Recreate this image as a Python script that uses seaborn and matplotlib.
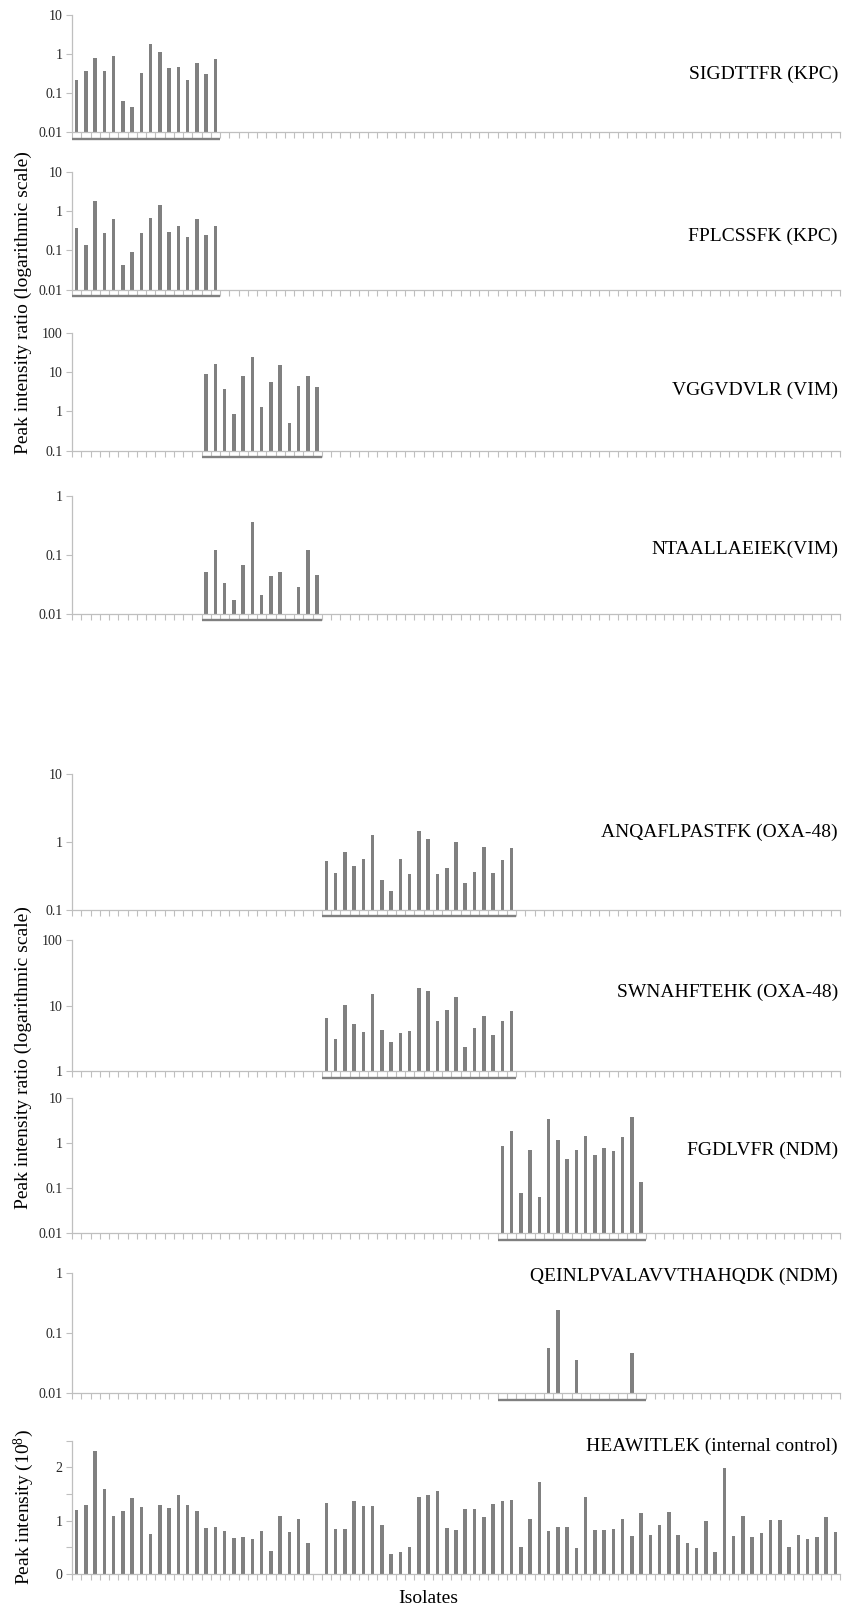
import numpy as np
import pandas as pd
import matplotlib
matplotlib.use("Agg")
import matplotlib.pyplot as plt
import matplotlib.transforms as mtransforms
from matplotlib.ticker import NullLocator
import seaborn as sns

# ---------------- data ----------------
isolates = [str(i) for i in range(1, 84)]

kpc_isolates = isolates[0:16]
sigdttfr_kpc = [0.22, 0.36, 0.78, 0.36, 0.86, 0.064, 0.043, 0.32, 1.81, 1.09,
                0.43, 0.46, 0.21, 0.57, 0.30, 0.72]
fplcssfk_kpc = [0.36, 0.137, 1.83, 0.28, 0.64, 0.042, 0.089, 0.27, 0.66, 1.42,
                0.30, 0.42, 0.22, 0.61, 0.245, 0.42]

vim_isolates = isolates[14:27]
vggvdvlr_vim = [8.9, 15.7, 3.8, 0.87, 7.8, 24.5, 1.29, 5.5, 15.1, 0.505, 4.4, 7.9, 4.1]
ntaallaeiek_vim = [0.052, 0.12, 0.033, 0.0175, 0.068, 0.36, 0.021, 0.0435, 0.052,
                   None, 0.029, 0.122, 0.046]

oxa_isolates = isolates[27:48]
anqaflpastfk_oxa = [0.525, 0.346, 0.72, 0.434, 0.55, 1.27, 0.276, 0.188, 0.55, 0.335,
                    1.45, 1.1, 0.335, 0.41, 1.01, 0.247, 0.358, 0.84, 0.342, 0.54, 0.81]
swnahftehk_oxa = [6.4, 3.1, 10.3, 5.3, 4.0, 15.0, 4.3, 2.75, 3.8, 4.1,
                  18.2, 16.6, 5.7, 8.5, 13.7, 2.3, 4.5, 7.0, 3.55, 5.9, 8.1]

ndm_isolates = isolates[46:62]
fgdlvfr_ndm = [0.857, 1.85, 0.079, 0.70, 0.064, 3.36, 1.17, 0.449, 0.70, 1.41,
               0.55, 0.76, 0.664, 1.36, 3.85, 0.138]
qeinlp_ndm = [None, None, None, None, None, 0.056, 0.24, None, 0.036, None,
              None, None, None, None, 0.047, None]

heawitlek_control = [
    1.20, 1.29, 2.31, 1.59, 1.09, 1.18, 1.42, 1.25, 0.75, 1.29,
    1.24, 1.48, 1.29, 1.19, 0.86, 0.89, 0.80, 0.68, 0.70, 0.66,
    0.81, 0.44, 1.09, 0.79, 1.04, 0.575, None, 1.33, 0.84, 0.84,
    1.36, 1.28, 1.28, 0.91, 0.375, 0.42, 0.50, 1.45, 1.48, 1.56,
    0.86, 0.83, 1.21, 1.22, 1.06, 1.31, 1.36, 1.39, 0.51, 1.03,
    1.73, 0.80, 0.89, 0.89, 0.49, 1.44, 0.83, 0.83, 0.84, 1.03,
    0.72, 1.14, 0.74, 0.91, 1.16, 0.73, 0.59, 0.49, 1.0, 0.41,
    1.99, 0.72, 1.09, 0.69, 0.76, 1.01, 1.01, 0.5, 0.74, 0.66,
    0.70, 1.07, 0.79]

titles = ["SIGDTTFR (KPC)", "FPLCSSFK (KPC)", "VGGVDVLR (VIM)", "NTAALLAEIEK(VIM)",
          "ANQAFLPASTFK (OXA-48)", "SWNAHFTEHK (OXA-48)", "FGDLVFR (NDM)",
          "QEINLPVALAVVTHAHQDK (NDM)", "HEAWITLEK (internal control)"]

# ---------------- style ----------------
sns.set_style("white")
plt.rcParams["font.family"] = ["Liberation Serif", "DejaVu Serif"]
plt.rcParams["mathtext.fontset"] = "custom"
plt.rcParams["mathtext.rm"] = "Liberation Serif"
plt.rcParams["mathtext.it"] = "Liberation Serif:italic"

BAR = "#808080"
AXC = "#bfbfbf"
TXT = "#262626"

W, H = 850, 1610
fig = plt.figure(figsize=(W / 100, H / 100), dpi=100)
fig.patch.set_facecolor("white")

LEFT, RIGHT = 72, 840

# (top px, bottom px, ylim, yticks, ticklabels, cats, values, title y px)
panels = [
    (14.7, 132.3, (0.01, 10), [0.01, 0.1, 1, 10], ["0.01", "0.1", "1", "10"], kpc_isolates, sigdttfr_kpc, 74),
    (171.7, 289.7, (0.01, 10), [0.01, 0.1, 1, 10], ["0.01", "0.1", "1", "10"], kpc_isolates, fplcssfk_kpc, 236),
    (332.7, 450.7, (0.1, 100), [0.1, 1, 10, 100], ["0.1", "1", "10", "100"], vim_isolates, vggvdvlr_vim, 390),
    (496, 614, (0.01, 1), [0.01, 0.1, 1], ["0.01", "0.1", "1"], vim_isolates, ntaallaeiek_vim, 549),
    (774, 909.7, (0.1, 10), [0.1, 1, 10], ["0.1", "1", "10"], oxa_isolates, anqaflpastfk_oxa, 832),
    (940, 1071, (1, 100), [1, 10, 100], ["1", "10", "100"], oxa_isolates, swnahftehk_oxa, 992),
    (1098, 1233, (0.01, 10), [0.01, 0.1, 1, 10], ["0.01", "0.1", "1", "10"], ndm_isolates, fgdlvfr_ndm, 1150),
    (1273, 1393, (0.01, 1), [0.01, 0.1, 1], ["0.01", "0.1", "1"], ndm_isolates, qeinlp_ndm, 1276),
]


def make_ax(top, bottom):
    return fig.add_axes([LEFT / W, 1 - bottom / H, (RIGHT - LEFT) / W, (bottom - top) / H])


def style_ax(ax):
    ax.set_xlim(-0.5, len(isolates) - 0.5)
    ax.set_xlabel("")
    ax.set_ylabel("")
    ax.set_xticks([])
    ax.set_xticks(np.arange(len(isolates) + 1) - 0.5, minor=True)
    ax.tick_params(axis="x", which="minor", bottom=True, length=4, width=0.8, color=AXC,
                   direction="out", labelbottom=False)
    ax.tick_params(axis="y", which="both", left=True, length=4, width=0.8, color=AXC,
                   direction="out", labelsize=10, labelcolor=TXT, pad=3)
    for s in ["top", "right"]:
        ax.spines[s].set_visible(False)
    for s in ["left", "bottom"]:
        ax.spines[s].set_color(AXC)
        ax.spines[s].set_linewidth(0.9)
    ax.set_facecolor("none")


for (top, bottom, ylim, yt, ytl, cats, vals, ty), title in zip(panels, titles[:8]):
    ax = make_ax(top, bottom)
    df = pd.DataFrame({"isolate": cats, "value": vals}).dropna()
    sns.barplot(data=df, x="isolate", y="value", order=isolates, color=BAR, saturation=1,
                width=0.38, errorbar=None, linewidth=0, ax=ax)
    ax.set_yscale("log")
    style_ax(ax)
    ax.set_ylim(*ylim)
    ax.set_yticks(yt)
    ax.set_yticklabels(ytl)
    ax.yaxis.set_minor_locator(NullLocator())
    # group underline
    trans = mtransforms.blended_transform_factory(ax.transData, ax.transAxes)
    yoff = -6.5 / (bottom - top)
    x0 = isolates.index(cats[0]) - 0.5
    x1 = isolates.index(cats[-1]) + 0.5
    ax.plot([x0, x1], [yoff, yoff], transform=trans, clip_on=False, color=BAR,
            lw=1.7, solid_capstyle="butt")
    fig.text(838 / W, 1 - ty / H, title, ha="right", va="center", fontsize=14, color="black")

# bottom panel: internal control
top, bottom = 1440.7, 1574
ax = make_ax(top, bottom)
df = pd.DataFrame({"isolate": isolates, "value": heawitlek_control}).dropna()
sns.barplot(data=df, x="isolate", y="value", order=isolates, color=BAR, saturation=1,
            width=0.38, errorbar=None, linewidth=0, ax=ax)
style_ax(ax)
ax.set_ylim(0, 2.5)
ax.set_yticks([0, 1, 2])
ax.set_yticklabels(["0", "1", "2"])
ax.set_yticks([0.5, 1.5, 2.5], minor=True)
fig.text(838 / W, 1 - 1446 / H, titles[8], ha="right", va="center", fontsize=14, color="black")

# axis labels
fig.text(23 / W, 1 - 303 / H, "Peak intensity ratio (logarithmic scale)", rotation=90,
         ha="center", va="center", fontsize=14, color="black")
fig.text(23 / W, 1 - 1058 / H, "Peak intensity ratio (logarithmic scale)", rotation=90,
         ha="center", va="center", fontsize=14, color="black")
fig.text(24 / W, 1 - 1507 / H, "Peak intensity (10$^{8}$)", rotation=90,
         ha="center", va="center", fontsize=14, color="black")
fig.text(428 / W, 1 - 1598 / H, "Isolates", ha="center", va="center", fontsize=14, color="black")

fig.savefig("out.png", dpi=100, facecolor="white")
